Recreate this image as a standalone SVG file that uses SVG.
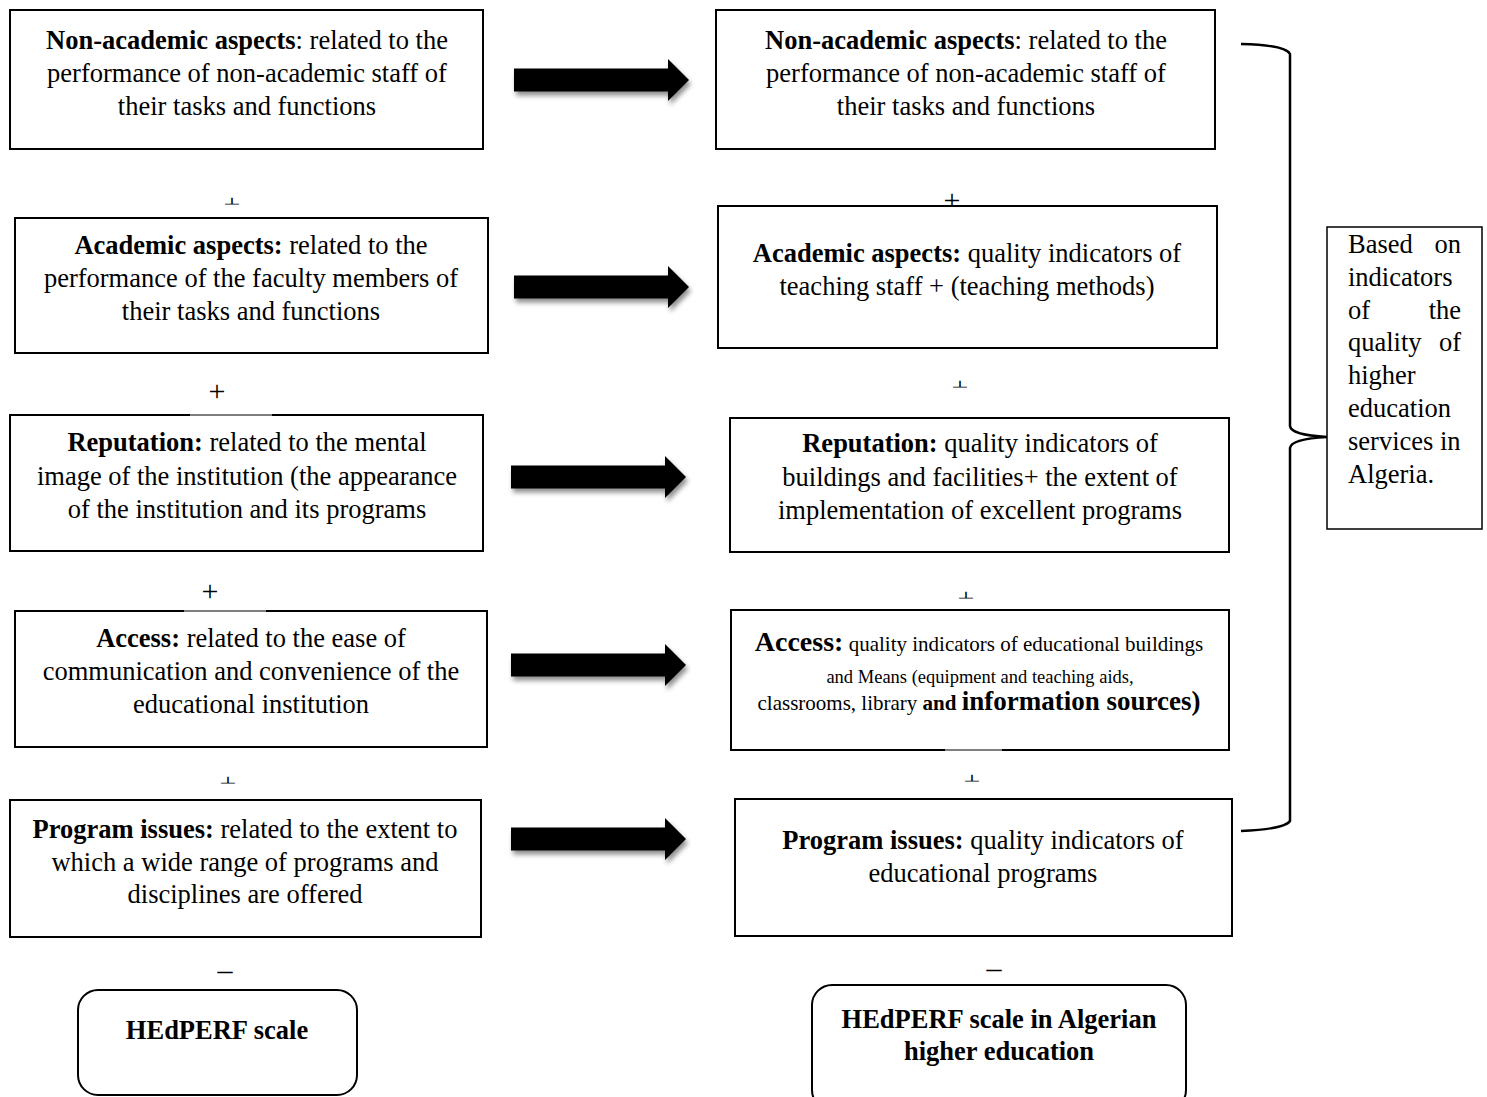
<svg xmlns="http://www.w3.org/2000/svg" width="1487" height="1097" viewBox="0 0 1487 1097">
<style>
text{font-family:"Liberation Serif","Times New Roman",serif;fill:#000}
.t{font-size:26.5px;text-anchor:middle}
.b{font-weight:bold}
.box{fill:#fff;stroke:#000;stroke-width:2}
.rbox{fill:#fff;stroke:#000;stroke-width:2}
.op{font-size:30px;text-anchor:middle}
.thin{stroke:#000;stroke-width:1}
.gap{stroke:#fff;stroke-width:3}
</style>
<defs>
<filter id="sh" x="-10%" y="-50%" width="130%" height="220%">
<feGaussianBlur in="SourceAlpha" stdDeviation="2.5"/>
<feOffset dx="2" dy="4" result="o"/>
<feComponentTransfer><feFuncA type="linear" slope="0.45"/></feComponentTransfer>
<feMerge><feMergeNode/><feMergeNode in="SourceGraphic"/></feMerge>
</filter>
<path id="arr" d="M0,-11.5 L154,-11.5 L154,-21 L175,0 L154,21 L154,11.5 L0,11.5 Z" fill="#000"/>
<clipPath id="c1"><rect x="200" y="180" width="60" height="24.5"/></clipPath>
<clipPath id="c2"><rect x="930" y="360" width="60" height="27.5"/></clipPath>
<clipPath id="c3"><rect x="940" y="570" width="60" height="28.5"/></clipPath>
<clipPath id="c4"><rect x="200" y="760" width="60" height="23.5"/></clipPath>
<clipPath id="c5"><rect x="940" y="760" width="60" height="21.5"/></clipPath>
</defs>
<rect width="1487" height="1097" fill="#fff"/>

<g id="connectors">
<use href="#arr" x="514" y="80" filter="url(#sh)"/>
<use href="#arr" x="514" y="287" filter="url(#sh)"/>
<use href="#arr" x="511" y="477" filter="url(#sh)"/>
<use href="#arr" x="511" y="665" filter="url(#sh)"/>
<use href="#arr" x="511" y="839" filter="url(#sh)"/>
<path d="M1241,44 Q1285,45 1290,54 L1290,426 Q1291,435 1327,437 Q1291,439 1290,448 L1290,821 Q1285,829 1241,831" fill="none" stroke="#000" stroke-width="2.5"/>
</g>

<g id="operators">
<text class="op" x="232" y="214" clip-path="url(#c1)">+</text>
<text class="op" x="952" y="210">+</text>
<text class="op" x="217" y="401">+</text>
<text class="op" x="960" y="397" clip-path="url(#c2)">+</text>
<text class="op" x="210" y="601">+</text>
<text class="op" x="966" y="608" clip-path="url(#c3)">+</text>
<text class="op" x="228" y="793" clip-path="url(#c4)">+</text>
<text class="op" x="972" y="791" clip-path="url(#c5)">+</text>
<text class="op" x="225" y="980">–</text>
<text class="op" x="994" y="978">–</text>
</g>

<g id="L1">
<rect class="box" x="10" y="10" width="473" height="139"/>
<text class="t" x="247" y="49"><tspan class="b">Non-academic aspects</tspan>: related to the</text>
<text class="t" x="247" y="82">performance of non-academic staff of</text>
<text class="t" x="247" y="115">their tasks and functions</text>
</g>
<g id="L2">
<rect class="box" x="15" y="218" width="473" height="135"/>
<text class="t" x="251" y="254"><tspan class="b">Academic aspects:</tspan> related to the</text>
<text class="t" x="251" y="287">performance of the faculty members of</text>
<text class="t" x="251" y="320">their tasks and functions</text>
</g>
<g id="L3">
<rect class="box" x="10" y="415" width="473" height="136"/>
<line class="gap" x1="190" y1="415" x2="272" y2="415"/>
<line class="thin" x1="190" y1="415" x2="272" y2="415"/>
<text class="t" x="247" y="451"><tspan class="b">Reputation:</tspan> related to the mental</text>
<text class="t" x="247" y="485">image of the institution (the appearance</text>
<text class="t" x="247" y="518">of the institution and its programs</text>
</g>
<g id="L4">
<rect class="box" x="15" y="611" width="472" height="136"/>
<line class="gap" x1="184" y1="611" x2="266" y2="611"/>
<line class="thin" x1="184" y1="611" x2="266" y2="611"/>
<text class="t" x="251" y="647"><tspan class="b">Access:</tspan> related to the ease of</text>
<text class="t" x="251" y="680">communication and convenience of the</text>
<text class="t" x="251" y="713">educational institution</text>
</g>
<g id="L5">
<rect class="box" x="10" y="800" width="471" height="137"/>
<text class="t" x="245" y="838"><tspan class="b">Program issues:</tspan> related to the extent to</text>
<text class="t" x="245" y="871">which a wide range of programs and</text>
<text class="t" x="245" y="903">disciplines are offered</text>
</g>

<g id="R1">
<rect class="box" x="716" y="10" width="499" height="139"/>
<text class="t" x="966" y="49"><tspan class="b">Non-academic aspects</tspan>: related to the</text>
<text class="t" x="966" y="82">performance of non-academic staff of</text>
<text class="t" x="966" y="115">their tasks and functions</text>
</g>
<g id="R2">
<rect class="box" x="718" y="206" width="499" height="142"/>
<text class="t" x="967" y="262"><tspan class="b">Academic aspects:</tspan> quality indicators of</text>
<text class="t" x="967" y="295">teaching staff + (teaching methods)</text>
</g>
<g id="R3">
<rect class="box" x="730" y="418" width="499" height="134"/>
<text class="t" x="980" y="452"><tspan class="b">Reputation:</tspan> quality indicators of</text>
<text class="t" x="980" y="486">buildings and facilities+ the extent of</text>
<text class="t" x="980" y="519">implementation of excellent programs</text>
</g>
<g id="R4">
<rect class="box" x="731" y="610" width="498" height="140"/>
<line class="gap" x1="945" y1="750" x2="1002" y2="750"/>
<line class="thin" x1="945" y1="750" x2="1002" y2="750"/>
<text x="979" y="651" text-anchor="middle"><tspan class="b" font-size="28px">Access:</tspan><tspan font-size="21px"> quality indicators of educational buildings</tspan></text>
<text x="980" y="683" text-anchor="middle" font-size="18.5px">and Means (equipment and teaching aids,</text>
<text x="979" y="710" text-anchor="middle"><tspan font-size="21px">classrooms, library </tspan><tspan class="b" font-size="21px">and </tspan><tspan class="b" font-size="27px">information sources)</tspan></text>
</g>
<g id="R5">
<rect class="box" x="735" y="799" width="497" height="137"/>
<text class="t" x="983" y="849"><tspan class="b">Program issues:</tspan> quality indicators of</text>
<text class="t" x="983" y="882">educational programs</text>
</g>

<g id="HL">
<rect class="rbox" x="78" y="990" width="279" height="105" rx="20"/>
<text class="t b" x="217" y="1039">HEdPERF scale</text>
</g>
<g id="HR">
<rect class="rbox" x="812" y="985" width="374" height="125" rx="20"/>
<text class="t b" x="999" y="1028">HEdPERF scale in Algerian</text>
<text class="t b" x="999" y="1060">higher education</text>
</g>

<g id="note">
<rect x="1327" y="227" width="155" height="302" fill="#fff" stroke="#000" stroke-width="1.5"/>
<g font-size="26.5px">
<text x="1348" y="253">Based</text><text x="1461" y="253" text-anchor="end">on</text>
<text x="1348" y="286">indicators</text>
<text x="1348" y="319">of</text><text x="1461" y="319" text-anchor="end">the</text>
<text x="1348" y="351">quality</text><text x="1461" y="351" text-anchor="end">of</text>
<text x="1348" y="384">higher</text>
<text x="1348" y="417">education</text>
<text x="1348" y="450">services in</text>
<text x="1348" y="483">Algeria.</text>
</g>
</g>
</svg>
